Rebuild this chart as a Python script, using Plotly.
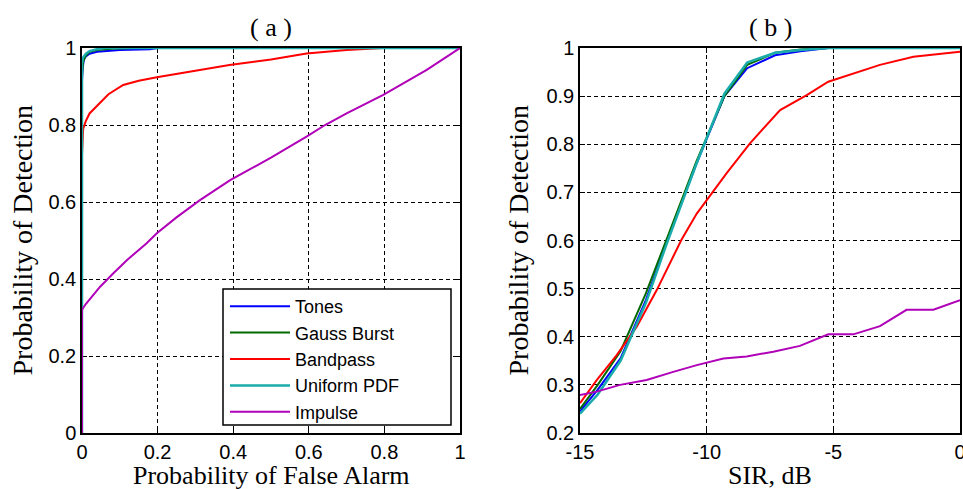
import plotly.graph_objects as go

# ---------------- data: panel (a) ROC ----------------
series_names = ["Tones", "Gauss Burst", "Bandpass", "Uniform PDF", "Impulse"]
series_colors = ["#0000ff", "#006a00", "#ff0000", "#1aabab", "#b000b8"]

a_tones_fa = [0, 0, 0.002, 0.005, 0.01, 0.02, 0.04, 0.07, 0.1, 0.18, 0.2, 1]
a_tones_pd = [0, 0.915, 0.95, 0.97, 0.978, 0.985, 0.99, 0.993, 0.995, 0.997, 1, 1]
a_gauss_fa = [0, 0, 0.003, 0.01, 0.02, 0.04, 0.08, 0.14, 1]
a_gauss_pd = [0, 0.93, 0.965, 0.98, 0.99, 0.995, 0.998, 1, 1]
a_band_fa = [0, 0, 0.003, 0.01, 0.02, 0.039, 0.07, 0.109, 0.15, 0.198, 0.3, 0.39, 0.5, 0.594, 0.7, 0.797, 1]
a_band_pd = [0, 0.722, 0.79, 0.81, 0.83, 0.848, 0.88, 0.904, 0.915, 0.924, 0.94, 0.956, 0.97, 0.986, 0.995, 1.0, 1.0]
a_unif_fa = [0, 0, 0.003, 0.01, 0.02, 0.04, 0.06, 1]
a_unif_pd = [0, 0.96, 0.975, 0.985, 0.992, 0.997, 1, 1]
a_imp_fa = [0, 0, 0.01, 0.03, 0.048, 0.083, 0.12, 0.171, 0.198, 0.25, 0.312, 0.392, 0.5, 0.594, 0.643, 0.7, 0.797, 0.912, 1]
a_imp_pd = [0, 0.32, 0.335, 0.36, 0.38, 0.415, 0.45, 0.493, 0.519, 0.56, 0.605, 0.657, 0.715, 0.77, 0.80, 0.83, 0.878, 0.943, 1.0]

# ---------------- data: panel (b) Pd vs SIR ----------------
b_sir_main = [-15, -14.3, -13.4, -12.4, -11.6, -10.4, -9.3, -8.4, -7.3, -6.3, -5.2, 0]
b_tones_pd = [0.245, 0.29, 0.355, 0.476, 0.594, 0.76, 0.9, 0.958, 0.985, 0.993, 1.0, 1.0]
b_gauss_pd = [0.25, 0.30, 0.37, 0.49, 0.60, 0.765, 0.9, 0.965, 0.99, 0.997, 1.0, 1.0]
b_unif_pd = [0.24, 0.28, 0.35, 0.47, 0.59, 0.76, 0.905, 0.97, 0.99, 0.996, 1.0, 1.0]
b_band_sir = [-15, -14.34, -13.55, -12.76, -11.97, -11, -10.39, -9.21, -8.29, -7.1, -6.05, -5.2, -3.16, -1.84, 0]
b_band_pd = [0.262, 0.31, 0.362, 0.421, 0.497, 0.601, 0.656, 0.74, 0.802, 0.871, 0.902, 0.93, 0.965, 0.982, 0.992]
b_imp_sir = [-15, -14.34, -13.42, -12.37, -11.32, -10.39, -9.34, -8.42, -7.37, -6.32, -5.2, -4.21, -3.16, -2.11, -1.05, 0]
b_imp_pd = [0.279, 0.286, 0.30, 0.31, 0.327, 0.341, 0.355, 0.359, 0.369, 0.381, 0.405, 0.405, 0.422, 0.456, 0.456, 0.476]

# ---------------- ticks / labels ----------------
a_xticks = [0, 0.2, 0.4, 0.6, 0.8, 1]
a_xticktext = ["0", "0.2", "0.4", "0.6", "0.8", "1"]
a_yticks = [0, 0.2, 0.4, 0.6, 0.8, 1]
a_yticktext = ["0", "0.2", "0.4", "0.6", "0.8", "1"]
b_xticks = [-15, -10, -5, 0]
b_xticktext = ["-15", "-10", "-5", "0"]
b_yticks = [0.2, 0.3, 0.4, 0.5, 0.6, 0.7, 0.8, 0.9, 1]
b_yticktext = ["0.2", "0.3", "0.4", "0.5", "0.6", "0.7", "0.8", "0.9", "1"]

W, H = 963, 489
fig = go.Figure()

a_data = [(a_tones_fa, a_tones_pd), (a_gauss_fa, a_gauss_pd), (a_band_fa, a_band_pd),
          (a_unif_fa, a_unif_pd), (a_imp_fa, a_imp_pd)]
a_widths = [2, 2, 2, 2.5, 2]
for name, col, (x, y), w in zip(series_names, series_colors, a_data, a_widths):
    fig.add_trace(go.Scatter(x=x, y=y, mode="lines", name=name,
                             line=dict(color=col, width=w),
                             xaxis="x", yaxis="y", showlegend=True))

b_data = [(b_sir_main, b_tones_pd), (b_sir_main, b_gauss_pd), (b_band_sir, b_band_pd),
          (b_sir_main, b_unif_pd), (b_imp_sir, b_imp_pd)]
for name, col, (x, y), w in zip(series_names, series_colors, b_data, a_widths):
    fig.add_trace(go.Scatter(x=x, y=y, mode="lines", name=name,
                             line=dict(color=col, width=w),
                             xaxis="x2", yaxis="y2", showlegend=False))

tickfont = dict(family="Liberation Sans, Arial, sans-serif", size=20, color="black")
ax_common = dict(showline=True, linecolor="black", linewidth=1.5, mirror="allticks",
                 ticks="inside", ticklen=5, tickcolor="black", tickwidth=1,
                 showgrid=True, gridcolor="black", gridwidth=1, griddash="4px,3px",
                 zeroline=False, tickfont=tickfont, tickmode="array",
                 automargin=False, layer="below traces", ticklabeloverflow="allow")

x0a, x1a = 82 / W, 460 / W
x0b, x1b = 580 / W, 960 / W
ytop, ybot = 1 - 48 / H, 1 - 433 / H

fig.update_layout(
    width=W, height=H,
    margin=dict(l=0, r=0, t=0, b=0, autoexpand=False),
    paper_bgcolor="white", plot_bgcolor="white",
    xaxis=dict(domain=[x0a, x1a], range=[0, 1], tickvals=a_xticks, ticktext=a_xticktext,
               anchor="y", **ax_common),
    yaxis=dict(domain=[ybot, ytop], range=[0, 1], tickvals=a_yticks, ticktext=a_yticktext,
               anchor="x", **ax_common),
    xaxis2=dict(domain=[x0b, x1b], range=[-15, 0], tickvals=b_xticks, ticktext=b_xticktext,
                anchor="y2", **ax_common),
    yaxis2=dict(domain=[ybot, ytop], range=[0.2, 1], tickvals=b_yticks, ticktext=b_yticktext,
                anchor="x2", **ax_common),
    legend=dict(x=225 / W, y=1 - 288 / H, xanchor="left", yanchor="top",
                bgcolor="rgba(0,0,0,0)", borderwidth=0,
                font=dict(family="Liberation Sans, Arial, sans-serif", size=18, color="black"),
                itemwidth=60, tracegroupgap=0),
    showlegend=True,
    shapes=[dict(type="rect", xref="paper", yref="paper",
                 x0=223 / W, x1=451 / W, y0=1 - 425 / H, y1=1 - 289 / H,
                 line=dict(color="black", width=1.5), fillcolor="white", layer="above")],
)

serif = "Liberation Serif, Times New Roman, serif"
annos = [
    dict(text="( a )", x=(x0a + x1a) / 2, y=1 - 27 / H, size=26, angle=0),
    dict(text="( b )", x=(x0b + x1b) / 2, y=1 - 27 / H, size=26, angle=0),
    dict(text="Probability of False Alarm", x=(x0a + x1a) / 2, y=1 - 475 / H, size=26, angle=0),
    dict(text="SIR, dB", x=(x0b + x1b) / 2, y=1 - 475 / H, size=26, angle=0),
    dict(text="Probability of Detection", x=22 / W, y=(ytop + ybot) / 2, size=28, angle=-90),
    dict(text="Probability of Detection", x=518 / W, y=(ytop + ybot) / 2, size=28, angle=-90),
]
for a in annos:
    fig.add_annotation(text=a["text"], x=a["x"], y=a["y"], xref="paper", yref="paper",
                       xanchor="center", yanchor="middle", showarrow=False,
                       textangle=a["angle"], font=dict(family=serif, size=a["size"], color="black"))

fig.write_html("out.html")
